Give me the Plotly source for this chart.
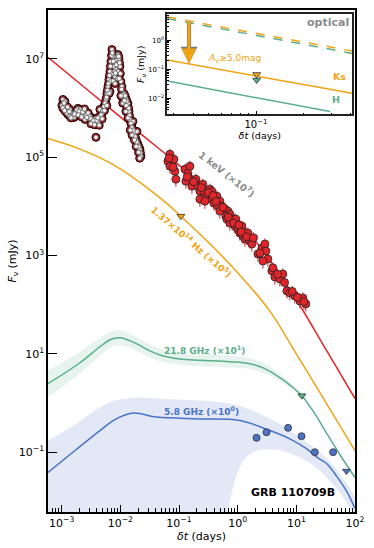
import numpy as np
import plotly.graph_objects as go

# ---------------- data (log10 values) ----------------
# X-ray (1 keV, x1e7) early, flaring data
xrt_early_logt = [-2.978,-2.995,-2.961,-2.927,-2.893,-2.859,-2.825,-2.790,-2.756,-2.722,-2.688,-2.654,-2.620,
                  -2.586,-2.552,-2.518,-2.484,-2.450,-2.416,-2.416,-2.382,-2.348,-2.313,-2.279,-2.245,-2.228,
                  -2.211,-2.194,-2.177,-2.160,-2.143,-2.126,-2.109,-2.092,-2.075,-2.058,-2.041,-2.024,-2.007,
                  -1.990,-1.973,-1.939,-1.905,-1.871,-1.853,-1.836,-1.802,-1.768,-1.734,-1.700,-1.666,-1.649,
                  -2.944,-2.859,-2.603,-2.348,-2.177,-2.126,-2.041,-1.973,-1.905,-1.785,-1.717,
                  -2.96,-2.91,-2.87,-2.80,-2.74,-2.70,-2.64,-2.57,-2.50,-2.46,-2.40,-2.33,-2.30,-2.26,
                  -2.235,-2.22,-2.20,-2.185,-2.168,-2.15,-2.135,-2.118,-2.10,-2.083,-2.067,-2.05,-2.03,
                  -2.015,-2.0,-1.98,-1.955,-1.92,-1.89,-1.86,-1.845,-1.82,-1.785,-1.75,-1.72,-1.685,-1.658,
                  -2.98,-2.95,-2.90,-2.84,-2.78,-2.72,-2.66,-2.61,-2.55,-2.50,-2.44,-2.38,-2.36,-2.31,
                  -2.27,-2.23,-2.19,-2.16,-2.12,-2.09,-2.05,-2.02,-1.99,-1.96,-1.93,-1.90,-1.87,-1.83,
                  -1.80,-1.76,-1.73,-1.69,-1.67]
xrt_early_logf = [6.174,6.053,6.032,5.931,5.870,5.972,5.890,5.809,5.931,5.992,5.972,5.890,5.931,
                  5.850,5.789,5.830,5.728,5.769,5.789,5.404,5.708,5.830,5.890,6.032,6.174,6.296,
                  6.438,6.580,6.742,6.945,7.189,7.047,6.844,6.641,6.783,6.986,7.087,7.006,6.844,
                  6.540,6.235,6.296,6.195,6.093,5.931,5.769,5.607,5.485,5.363,5.262,5.160,5.018,
                  6.134,5.830,5.769,5.972,6.336,6.701,6.742,6.438,5.931,5.728,5.525,
                  6.10,5.90,5.93,5.86,5.96,5.93,5.92,5.81,5.78,5.74,5.75,5.86,5.95,6.10,
                  6.22,6.36,6.50,6.66,6.85,7.07,7.12,6.95,6.74,6.71,6.88,7.05,7.05,
                  6.92,6.70,6.38,6.27,6.25,6.14,6.0,5.85,5.69,5.55,5.42,5.31,5.21,5.09,
                  6.00,5.95,6.02,5.80,5.88,5.86,5.82,5.98,5.90,5.68,5.66,5.80,5.65,5.78,
                  5.95,6.05,6.30,6.55,6.55,6.50,6.60,6.60,6.25,6.10,6.15,6.05,5.80,5.55,
                  5.45,5.35,5.22,5.10,4.98]
# X-ray later data
xrt_late_logt = [-1.155,-1.189,-1.121,-1.070,-1.053,-1.155,-1.087,-0.899,-0.848,-0.814,-0.882,-0.780,-0.814,
                 -0.712,-0.678,-0.644,-0.593,-0.559,-0.525,-0.474,-0.440,-0.405,-0.354,-0.303,-0.269,-0.218,
                 -0.167,-0.133,-0.099,-0.201,-0.337,-0.644,-0.559,-0.440,-0.303,-0.184,-0.133,-0.048,0.003,
                 0.037,0.089,0.123,0.174,0.208,0.242,-0.031,0.072,0.345,0.413,0.464,0.481,0.515,0.430,
                 0.583,0.634,0.719,0.770,0.838,0.889,0.974,1.060,1.111,1.162,
                 -1.17,-1.10,-0.86,-0.75,-0.62,-0.50,-0.42,-0.37,-0.25,-0.16,-0.07,0.02,0.06,0.15,
                 0.27,0.38,0.60,0.68,0.80,0.93,1.02,1.13]
xrt_late_logf = [5.059,4.917,4.856,4.714,4.552,4.815,4.957,4.755,4.673,4.552,4.511,4.410,4.815,
                 4.552,4.410,4.308,4.450,4.268,4.207,4.349,4.146,4.065,4.207,4.105,4.004,3.943,
                 3.903,3.842,3.740,3.801,4.004,4.146,4.105,4.308,3.903,3.740,3.659,3.598,3.538,
                 3.457,3.396,3.335,3.457,3.294,3.233,3.740,3.598,3.030,3.152,3.233,3.091,2.929,2.888,
                 2.686,2.564,2.523,2.625,2.280,2.239,2.179,2.077,2.138,2.016,
                 4.98,4.80,4.60,4.50,4.38,4.28,4.22,4.10,3.98,3.78,3.66,3.62,3.48,3.38,
                 3.36,3.05,2.75,2.62,2.45,2.27,2.15,2.06]

# model curves
xray_model_logt = [-3.233,-2.5,-1.666,-1.0,-0.5,0.0,0.5,1.0,1.5,2.0]
xray_model_logf = [7.03,6.31,5.49,4.84,4.33,3.75,2.98,2.10,1.10,0.09]

nir_model_logt = [-3.233,-2.7,-2.2,-1.7,-1.2,-0.968,-0.5,0.0,0.549,1.0,1.5,2.0]
nir_model_logf = [5.38,5.17,4.90,4.52,4.05,3.80,3.27,2.65,1.87,1.00,0.02,-0.97]
nir_limit_logt = [-0.968]
nir_limit_logf = [3.80]

g21_logt = [-3.233,-2.688,-2.348,-2.177,-2.007,-1.751,-1.496,-1.325,-0.985,-0.644,-0.133,0.208,0.464,
            0.719,0.923,1.094,1.315,1.520,1.741,1.997]
g21_logf = [0.394,0.819,1.144,1.286,1.327,1.222,1.059,0.978,0.897,0.870,0.840,0.799,0.698,
            0.515,0.333,0.150,-0.215,-0.621,-1.047,-1.513]
g21_hi = [0.66,1.04,1.32,1.45,1.48,1.36,1.19,1.11,1.02,0.99,0.96,0.91,0.80,0.59,0.37,0.17,-0.205,-0.62,-1.05,-1.51]
g21_lo = [0.12,0.60,0.96,1.13,1.18,1.08,0.93,0.85,0.78,0.75,0.72,0.69,0.60,0.45,0.29,0.13,-0.225,-0.62,-1.05,-1.51]
g21_limit_logt = [1.094]
g21_limit_logf = [0.150]

b58_logt = [-3.233,-2.773,-2.348,-2.092,-1.785,-1.377,-0.644,0.037,0.549,0.889,1.179,1.349,1.520,1.690,1.878,1.997]
b58_logf = [-1.412,-0.966,-0.560,-0.337,-0.205,-0.286,-0.323,-0.357,-0.560,-0.728,-0.931,-1.101,-1.235,-1.493,-1.838,-2.142]
b58_hi_logt = [-3.233,-2.773,-2.348,-2.092,-1.785,-1.325,-0.644,-0.133,0.208,0.549,0.889,1.179,1.520,1.878,1.997]
b58_hi_logf = [-0.763,-0.438,-0.093,0.049,0.109,0.089,0.049,-0.012,-0.134,-0.317,-0.560,-0.803,-1.128,-1.675,-1.918]
b58_lo_logt = [-3.233,-0.22,-0.15,-0.05,0.037,0.15,0.322,0.549,0.719,0.889,1.06,1.23,1.40,1.57,1.74,1.997]
b58_lo_logf = [-3.0,-3.0,-2.1,-1.6,-1.3,-1.1,-0.97,-0.94,-0.96,-1.02,-1.11,-1.22,-1.38,-1.58,-1.82,-2.25]
b58_obs_logt = [0.322,0.492,0.860,1.089,1.315,1.627]
b58_obs_logf = [-0.708,-0.594,-0.505,-0.675,-1.0,-1.0]
b58_limit_logt = [1.855]
b58_limit_logf = [-1.385]

# inset (actual values)
ins_t = [0.0273, 0.41]
ins_opt_orange = [6.28, 0.42]
ins_opt_teal = [5.50, 0.348]
ins_ks = [0.2065, 0.01483]
ins_h_t = [0.0273, 0.295]
ins_h = [0.0394, 0.00351]
ins_lim_t = [0.101, 0.101]
ins_lim_f = [0.0664, 0.0427]
arrow_t = 0.0375
arrow_from = 4.84
arrow_to = 0.158

RED = '#e0262b'
ORANGE = '#efa414'
GREEN = '#5aae8a'
BLUE = '#4a73c6'
GRAY = '#8a8a8a'

def p(a):
    return 10 ** np.array(a, dtype=float)

fig = go.Figure()

# blue band
fig.add_trace(go.Scatter(x=np.concatenate([p(b58_hi_logt), p(b58_lo_logt)[::-1]]),
                         y=np.concatenate([p(b58_hi_logf), p(b58_lo_logf)[::-1]]),
                         fill='toself', fillcolor='rgba(74,115,198,0.16)', line=dict(width=0, shape='spline'),
                         mode='lines', hoverinfo='skip'))
# green band
fig.add_trace(go.Scatter(x=np.concatenate([p(g21_logt), p(g21_logt)[::-1]]),
                         y=np.concatenate([p(g21_hi), p(g21_lo)[::-1]]),
                         fill='toself', fillcolor='rgba(90,174,138,0.15)', line=dict(width=0, shape='spline'),
                         mode='lines', hoverinfo='skip'))
# model lines
fig.add_trace(go.Scatter(x=p(b58_logt), y=p(b58_logf), mode='lines', line=dict(color=BLUE, width=1.5, shape='spline')))
fig.add_trace(go.Scatter(x=p(g21_logt), y=p(g21_logf), mode='lines', line=dict(color=GREEN, width=1.5, shape='spline')))
fig.add_trace(go.Scatter(x=p(nir_model_logt), y=p(nir_model_logf), mode='lines', line=dict(color=ORANGE, width=1.5, shape='spline')))
fig.add_trace(go.Scatter(x=p(xray_model_logt), y=p(xray_model_logf), mode='lines', line=dict(color=RED, width=1.5, shape='spline')))

# X-ray data
fig.add_trace(go.Scatter(x=p(xrt_early_logt), y=p(xrt_early_logf), mode='markers',
                         marker=dict(size=8, color='#b8232a', line=dict(color='#200', width=1))))
fig.add_trace(go.Scatter(x=p(xrt_early_logt), y=p(xrt_early_logf), mode='markers',
                         marker=dict(size=4.5, color='#f4f4f4', line=dict(color='#555', width=0.8))))
fig.add_trace(go.Scatter(x=p(xrt_late_logt), y=p(xrt_late_logf), mode='markers',
                         error_y=dict(type='percent', value=30, color=RED, thickness=1, width=0),
                         marker=dict(size=8, color=RED, line=dict(color='#222', width=0.8))))

# limits and radio data
tri = dict(symbol='triangle-down', size=7, line=dict(color='#333', width=0.8))
fig.add_trace(go.Scatter(x=p(nir_limit_logt), y=p(nir_limit_logf), mode='markers', marker=dict(color=ORANGE, **tri)))
fig.add_trace(go.Scatter(x=p(g21_limit_logt), y=p(g21_limit_logf), mode='markers', marker=dict(color=GREEN, **tri)))
fig.add_trace(go.Scatter(x=p(b58_limit_logt), y=p(b58_limit_logf), mode='markers', marker=dict(color=BLUE, **tri)))
fig.add_trace(go.Scatter(x=p(b58_obs_logt), y=p(b58_obs_logf), mode='markers',
                         marker=dict(size=7, color=BLUE, line=dict(color='#333', width=0.8))))

# inset traces
fig.add_trace(go.Scatter(x=ins_t, y=ins_opt_teal, mode='lines', xaxis='x2', yaxis='y2',
                         line=dict(color=GREEN, width=1.5, dash='dash')))
fig.add_trace(go.Scatter(x=ins_t, y=ins_opt_orange, mode='lines', xaxis='x2', yaxis='y2',
                         line=dict(color=ORANGE, width=1.5, dash='dash')))
fig.add_trace(go.Scatter(x=ins_t, y=ins_ks, mode='lines', xaxis='x2', yaxis='y2',
                         line=dict(color=ORANGE, width=1.5)))
fig.add_trace(go.Scatter(x=ins_h_t, y=ins_h, mode='lines', xaxis='x2', yaxis='y2',
                         line=dict(color=GREEN, width=1.5)))
fig.add_trace(go.Scatter(x=ins_lim_t, y=ins_lim_f, mode='markers', xaxis='x2', yaxis='y2',
                         marker=dict(symbol='triangle-down', size=7, color=[ORANGE, GREEN],
                                     line=dict(color='#333', width=0.8))))

FONT = 'DejaVu Sans'
sup = lambda e: '10<sup>%s</sup>' % str(e).replace('-', '\u2212')

xmaj = [10.0 ** k for k in range(-3, 3)]
xmin = [m * 10.0 ** k for k in range(-4, 3) for m in range(2, 10)]
ymaj = [10.0 ** k for k in (-1, 1, 3, 5, 7)]

ann = []
def txt(x, y, s, color, size, angle=0, bold=True, xanchor='center'):
    ann.append(dict(x=x, y=y, xref='paper', yref='paper', text=('<b>%s</b>' % s) if bold else s,
                    showarrow=False, textangle=angle, xanchor=xanchor, yanchor='middle',
                    font=dict(color=color, size=size, family=FONT)))

txt(0.583, 0.673, '1 keV (×10<sup>7</sup>)', GRAY, 9.5, 38)
txt(0.469, 0.538, '1.37×10<sup>14</sup> Hz (×10<sup>5</sup>)', ORANGE, 9, 41)
txt(0.511, 0.323, '21.8 GHz (×10<sup>1</sup>)', GREEN, 9)
txt(0.501, 0.202, '5.8 GHz (×10<sup>0</sup>)', BLUE, 9)
txt(0.798, 0.038, 'GRB 110709B', 'black', 11)
txt(0.987, 0.976, 'optical', GRAY, 11, xanchor='right')
txt(0.950, 0.867, 'Ks', ORANGE, 9.5)
txt(0.939, 0.822, 'H', GREEN, 9.5)
txt(0.515, 0.903, '<i>A</i><sub>V</sub>≥5.0mag', ORANGE, 9, bold=False, xanchor='left')

# upper-limit arrow in inset (log coordinates for annotations on log axes)
for col, w, s in (('#777', 4.2, 0.8), (ORANGE, 3.0, 1.0)):
    ann.append(dict(x=np.log10(arrow_t), y=np.log10(arrow_to), ax=np.log10(arrow_t), ay=np.log10(arrow_from),
                    xref='x2', yref='y2', axref='x2', ayref='y2', text='', showarrow=True,
                    arrowhead=2, arrowsize=s, arrowwidth=w, arrowcolor=col))

axis_common = dict(showline=True, mirror=True, linecolor='black', linewidth=1.5,
                   ticks='inside', tickcolor='black', showgrid=False, zeroline=False,
                   tickfont=dict(family=FONT, size=11, color='black'))

fig.update_layout(
    width=374, height=548, margin=dict(l=48, r=19, t=8, b=36),
    paper_bgcolor='white', plot_bgcolor='white', showlegend=False,
    font=dict(family=FONT, color='black'),
    xaxis=dict(type='log', range=[-3.233, 2.0], domain=[0, 1], tickmode='array', tickvals=xmaj,
               ticktext=[sup(k) for k in range(-3, 3)], ticklen=7, tickwidth=1.2,
               minor=dict(ticks='inside', ticklen=4, tickwidth=1, tickcolor='black', tickvals=xmin),
               title=dict(text='<i>δt</i> (days)', font=dict(size=11, family=FONT), standoff=2),
               **axis_common),
    yaxis=dict(type='log', range=[-2.217, 7.994], domain=[0, 1], tickmode='array', tickvals=ymaj,
               ticktext=[sup(k) for k in (-1, 1, 3, 5, 7)], ticklen=9, tickwidth=1.2,
               title=dict(text='<i>F</i><sub>ν</sub> (mJy)', font=dict(size=11, family=FONT), standoff=0),
               **axis_common),
    xaxis2=dict(type='log', range=[-1.564, -0.388], domain=[0.3886, 0.9912], anchor='y2',
                tickmode='array', tickvals=[0.1], ticktext=[sup(-1)], ticklen=4,
                minor=dict(ticks='inside', ticklen=2, tickcolor='black', tickvals=xmin),
                showline=True, mirror=True, linecolor='#222', linewidth=1.5, ticks='inside',
                tickcolor='black', showgrid=False, zeroline=False,
                tickfont=dict(family=FONT, size=10, color='black'),
                title=dict(text='<i>δt</i> (days)', font=dict(size=9.5, family=FONT), standoff=0)),
    yaxis2=dict(type='log', range=[-2.548, 0.89], domain=[0.7923, 0.9915], anchor='x2',
                tickmode='array', tickvals=[0.01, 0.1, 1], ticktext=[sup(-2), sup(-1), sup(0)], ticklen=4,
                minor=dict(ticks='inside', ticklen=2, tickcolor='black', tickvals=xmin),
                showline=True, mirror=True, linecolor='#222', linewidth=1.5, ticks='inside',
                tickcolor='black', showgrid=False, zeroline=False,
                tickfont=dict(family=FONT, size=7, color='black'),
                title=dict(text='<i>F</i><sub>ν</sub> (mJy)', font=dict(size=9.5, family=FONT), standoff=2)),
    annotations=ann,
)

fig.write_html('out.html', config={'displayModeBar': False},
               post_script="document.body.style.margin='0';document.body.style.padding='0';")
